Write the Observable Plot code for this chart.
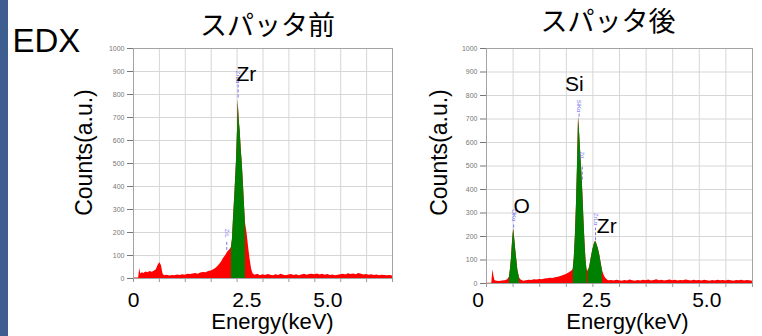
<!DOCTYPE html>
<html><head><meta charset="utf-8">
<script src="https://cdn.jsdelivr.net/npm/d3@7"></script>
<script src="https://cdn.jsdelivr.net/npm/@observablehq/plot@0.6"></script>
<style>
html,body{margin:0;padding:0;background:#fff;}
#wrap{position:relative;width:762px;height:336px;overflow:hidden;background:#fff;}
#strip{position:absolute;left:0;top:0;width:8px;height:336px;background:#3d5e8f;}
</style></head><body><div id="wrap"><div id="strip"></div></div>
<script>
// ---- data (energy in keV, counts) ----
const beforeEnergy = [0,0.10,0.12,0.14,0.17,0.20,0.24,0.28,0.32,0.36,0.40,0.44,0.48,0.51,0.54,0.57,0.60,0.65,0.70,0.75,0.80,0.85,0.90,0.95,1.00,1.05,1.10,1.15,1.20,1.25,1.30,1.35,1.40,1.45,1.50,1.55,1.60,1.65,1.70,1.74,1.78,1.82,1.86,1.89,1.91,1.93,1.96,1.99,2.01,2.02,2.04,2.06,2.08,2.10,2.12,2.14,2.16,2.19,2.22,2.25,2.28,2.31,2.35,2.40,2.45,2.50,2.55,2.60,2.65,2.70,2.75,2.80,2.85,2.90,2.95,3.00,3.05,3.10,3.15,3.20,3.25,3.30,3.35,3.40,3.45,3.50,3.55,3.60,3.65,3.70,3.75,3.80,3.85,3.90,3.95,4.00,4.05,4.10,4.15,4.20,4.25,4.30,4.35,4.40,4.45,4.50,4.55,4.60,4.65,4.70,4.75,4.80,4.85,4.90,4.95,5.00];
const beforeCounts = [2,2,43,20,25,22,28,25,30,27,32,38,60,68,55,20,12,14,11,13,12,15,13,16,14,18,17,20,22,19,24,26,25,30,33,38,46,58,72,88,100,115,125,135,170,260,380,520,660,775,690,640,560,500,420,330,245,200,140,85,40,20,14,18,12,16,13,17,14,12,16,13,18,14,12,15,17,13,16,12,15,18,14,17,19,16,20,15,18,14,17,13,15,12,14,16,19,15,21,17,20,16,22,18,15,17,14,16,13,15,12,14,13,12,13,11];
const beforeRoiStart = [1.89];
const beforeRoiEnd = [2.16];

const afterEnergy = [0,0.10,0.12,0.14,0.16,0.20,0.25,0.30,0.35,0.40,0.42,0.43,0.45,0.47,0.49,0.51,0.53,0.55,0.57,0.59,0.62,0.65,0.70,0.75,0.80,0.85,0.90,0.95,1.00,1.05,1.10,1.15,1.20,1.25,1.30,1.35,1.40,1.45,1.50,1.55,1.60,1.63,1.65,1.67,1.69,1.71,1.73,1.75,1.77,1.79,1.81,1.83,1.85,1.87,1.89,1.90,1.91,1.94,1.97,2.00,2.03,2.05,2.07,2.10,2.13,2.16,2.18,2.21,2.24,2.28,2.30,2.35,2.40,2.45,2.50,2.55,2.60,2.65,2.70,2.75,2.80,2.85,2.90,2.95,3.00,3.05,3.10,3.15,3.20,3.25,3.30,3.35,3.40,3.45,3.50,3.55,3.60,3.65,3.70,3.75,3.80,3.85,3.90,3.95,4.00,4.05,4.10,4.15,4.20,4.25,4.30,4.35,4.40,4.45,4.50,4.55,4.60,4.65,4.70,4.75,4.80,4.85,4.90,4.95,5.00];
const afterCounts = [1,1,58,30,12,10,9,11,12,16,24,25,60,110,180,233,190,140,100,55,25,15,10,12,14,13,16,15,17,16,19,20,22,21,24,27,30,34,38,45,52,60,110,200,330,500,708,640,560,480,390,280,180,100,55,60,50,70,110,145,170,180,170,150,120,80,55,35,22,14,12,13,11,14,12,10,13,11,15,12,10,13,11,14,12,15,11,13,16,12,14,11,13,15,12,14,11,13,12,15,13,11,14,12,13,11,14,12,10,13,11,14,12,13,11,14,12,10,13,12,14,11,13,12,10];
const afterRoiStart = [0.43, 1.63, 1.91];
const afterRoiEnd = [0.62, 1.89, 2.18];

const gridEnergy = [0,0.5,1,1.5,2,2.5,3,3.5,4,4.5,5];
const gridCounts = [0,100,200,300,400,500,600,700,800,900,1000];

const xTickLabels = ["0", "2.5", "5.0"];
const beforeTickEnergy = [0, 2.19, 3.75];
const afterTickEnergy = [-0.16, 2.07, 4.14];

const beforeElements = ["Zr"];
const beforeElementEnergy = [2.18];
const beforeElementCounts = [860];
const afterElements = ["O", "Si", "Zr"];
const afterElementEnergy = [0.66, 1.65, 2.26];
const afterElementCounts = [302, 821, 213];

const beforeMarkers = ["ZrL", "ZrLα"];
const beforeMarkerEnergy = [1.80, 2.02];
const beforeMarkerText = [197, 876];
const beforeMarkerTop = [162, 855];
const beforeMarkerBottom = [122, 785];
const afterMarkers = ["OKα", "SiKα", "ZrL", "ZrLα"];
const afterMarkerEnergy = [0.51, 1.74, 1.80, 2.05];
const afterMarkerText = [290, 755, 543, 274];
const afterMarkerTop = [255, 722, 505, 235];
const afterMarkerBottom = [236, 708, 440, 182];

const titles = ["スパッタ前", "スパッタ後"];

function panel(o) {
  const spec = o.energy.map((e, i) => ({e, c: o.counts[i]}));
  const rois = o.roiStart.map((lo, k) => spec.filter(d => d.e >= lo - 1e-9 && d.e <= o.roiEnd[k] + 1e-9));
  const marks = [
    Plot.ruleX(gridEnergy, {stroke: "#d6d6d6", strokeWidth: 1}),
    Plot.ruleY(gridCounts, {stroke: "#d6d6d6", strokeWidth: 1}),
    Plot.areaY(spec, {x: "e", y: "c", fill: "#ff0000", curve: "linear"}),
    ...rois.map(r => Plot.areaY(r, {x: "e", y: "c", fill: "#008000", curve: "linear"})),
    Plot.frame({stroke: "#a3a3a3"}),
    Plot.axisY({ticks: gridCounts, tickSize: 6, tickPadding: 3, fontSize: 7, color: "#777", label: null, tickFormat: d => String(d)}),
    Plot.axisX({ticks: gridEnergy, tickSize: 4, tickFormat: () => "", color: "#999", label: null}),
    Plot.ruleX(o.markers, {x: (d, i) => o.markerEnergy[i], y1: (d, i) => o.markerBottom[i], y2: (d, i) => o.markerTop[i], stroke: "#7777ee", strokeWidth: 1, strokeDasharray: "3,2"}),
    Plot.text(o.markers, {x: (d, i) => o.markerEnergy[i], y: (d, i) => o.markerText[i], text: d => d, rotate: 90, fontSize: 6, fill: "#6e6ef0"}),
    Plot.text(o.elements, {x: (d, i) => o.elementEnergy[i], y: (d, i) => o.elementCounts[i], text: d => d, lineAnchor: "bottom", fontSize: 21, fill: "#000"}),
    Plot.text(xTickLabels, {x: (d, i) => o.tickEnergy[i], frameAnchor: "bottom", text: d => d, lineAnchor: "bottom", dy: o.tickDy, fontSize: 21, fill: "#000"}),
    Plot.text(["Counts(a.u.)"], {frameAnchor: "left", textAnchor: "middle", rotate: -90, dx: o.countsDx, dy: o.countsDy, fontSize: 23, fill: "#000"}),
    Plot.text(["Energy(keV)"], {frameAnchor: "bottom", textAnchor: "middle", dx: o.energyDx, dy: o.energyDy, lineAnchor: "bottom", fontSize: 22, fill: "#000"}),
    Plot.text([o.title], {frameAnchor: "top", textAnchor: "middle", dx: o.titleDx, dy: o.titleDy, lineAnchor: "bottom", fontSize: 27, fontFamily: "'Noto Sans CJK JP', sans-serif", fill: "#000"})
  ];
  if (o.edx) marks.push(Plot.text(["EDX"], {frameAnchor: "top-left", textAnchor: "start", dx: -121, dy: 3, lineAnchor: "bottom", fontSize: 33, fill: "#000"}));
  return Plot.plot({
    width: o.width, height: 336,
    marginLeft: o.marginLeft, marginRight: o.marginRight, marginTop: 48, marginBottom: o.marginBottom,
    x: {domain: [0, 5]},
    y: {domain: [0, 1000]},
    style: {fontFamily: "'Liberation Sans', Arial, sans-serif", background: "transparent", position: "absolute", left: o.left + "px", top: "0px", overflow: "visible"},
    marks
  });
}

const wrap = document.getElementById("wrap");
wrap.appendChild(panel({
  energy: beforeEnergy, counts: beforeCounts, roiStart: beforeRoiStart, roiEnd: beforeRoiEnd,
  tickEnergy: beforeTickEnergy, elements: beforeElements, elementEnergy: beforeElementEnergy, elementCounts: beforeElementCounts,
  markers: beforeMarkers, markerEnergy: beforeMarkerEnergy, markerText: beforeMarkerText, markerTop: beforeMarkerTop, markerBottom: beforeMarkerBottom,
  title: titles[0], titleDx: 4.5, titleDy: -14, tickDy: 28, countsDx: -49, countsDy: -11, energyDx: 9.5, energyDy: 50,
  width: 392, left: 8, marginLeft: 125, marginRight: 8, marginBottom: 58, edx: true
}));
wrap.appendChild(panel({
  energy: afterEnergy, counts: afterCounts, roiStart: afterRoiStart, roiEnd: afterRoiEnd,
  tickEnergy: afterTickEnergy, elements: afterElements, elementEnergy: afterElementEnergy, elementCounts: afterElementCounts,
  markers: afterMarkers, markerEnergy: afterMarkerEnergy, markerText: afterMarkerText, markerTop: afterMarkerTop, markerBottom: afterMarkerBottom,
  title: titles[1], titleDx: -11.5, titleDy: -18, tickDy: 23, countsDx: -47, countsDy: -13.5, energyDx: 8, energyDy: 45,
  width: 362, left: 400, marginLeft: 86, marginRight: 10, marginBottom: 53, edx: false
}));
</script></body></html>
